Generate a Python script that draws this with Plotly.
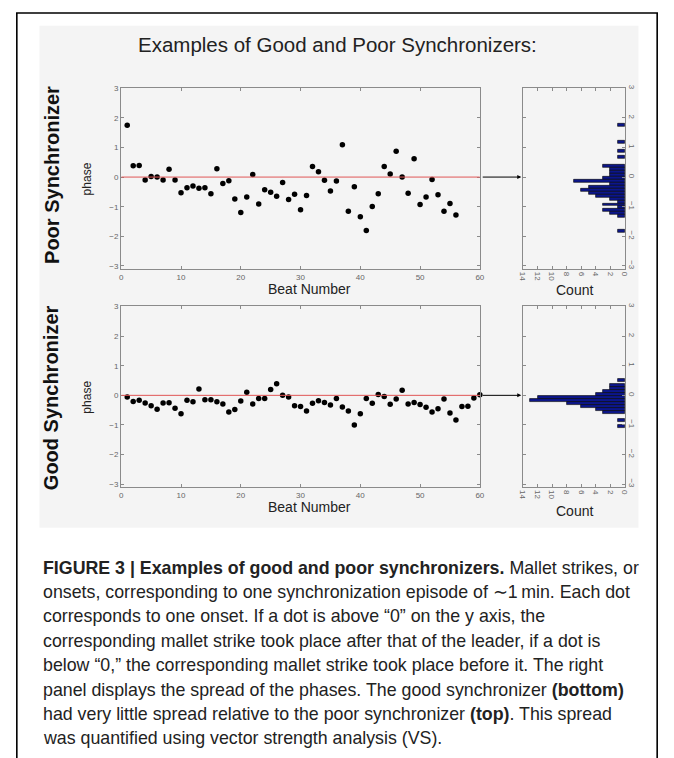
import plotly.graph_objects as go

W, H = 674, 758

# ---------------- data ----------------
poor_beats = [1, 2, 3, 4, 5, 6, 7, 8, 9, 10, 11, 12, 13, 14, 15, 16, 17, 18, 19, 20,
              21, 22, 23, 24, 25, 26, 27, 28, 29, 30, 31, 32, 33, 34, 35, 36, 37, 38, 39, 40,
              41, 42, 43, 44, 45, 46, 47, 48, 49, 50, 51, 52, 53, 54, 55, 56]
poor_phase = [1.75, 0.38, 0.39, -0.10, 0.02, 0.00, -0.10, 0.26, -0.10, -0.53,
              -0.36, -0.30, -0.38, -0.36, -0.56, 0.28, -0.22, -0.12, -0.74, -1.20,
              -0.67, 0.09, -0.91, -0.43, -0.51, -0.65, -0.18, -0.76, -0.58, -1.10,
              -0.62, 0.36, 0.18, -0.11, -0.47, -0.13, 1.09, -1.15, -0.33, -1.34,
              -1.80, -0.99, -0.56, 0.36, 0.10, 0.87, 0.00, -0.55, 0.62, -0.93,
              -0.67, -0.08, -0.60, -1.15, -0.89, -1.28]

good_beats = [1, 2, 3, 4, 5, 6, 7, 8, 9, 10, 11, 12, 13, 14, 15, 16, 17, 18, 19, 20,
              21, 22, 23, 24, 25, 26, 27, 28, 29, 30, 31, 32, 33, 34, 35, 36, 37, 38, 39, 40,
              41, 42, 43, 44, 45, 46, 47, 48, 49, 50, 51, 52, 53, 54, 55, 56, 57, 58, 59, 60]
good_phase = [-0.06, -0.21, -0.17, -0.26, -0.35, -0.47, -0.26, -0.25, -0.44, -0.62,
              -0.17, -0.22, 0.21, -0.15, -0.15, -0.22, -0.29, -0.56, -0.48, -0.19,
              0.10, -0.29, -0.11, -0.11, 0.20, 0.39, 0.00, -0.06, -0.35, -0.38,
              -0.53, -0.27, -0.18, -0.24, -0.33, -0.11, -0.39, -0.53, -1.00, -0.62,
              -0.11, -0.27, 0.03, -0.04, -0.30, -0.12, 0.17, -0.29, -0.24, -0.31,
              -0.40, -0.56, -0.45, -0.12, -0.60, -0.83, -0.38, -0.37, -0.09, 0.02]

poor_bin_centers = [1.77, 1.17, 0.87, 0.67, 0.37, 0.27, 0.17, 0.07, -0.03, -0.13, -0.23, -0.33,
                    -0.43, -0.53, -0.63, -0.73, -0.83, -0.93, -1.03, -1.13, -1.23, -1.33, -1.83]
poor_counts = [1, 1, 1, 1, 3, 2, 2, 2, 3, 7, 2, 5, 6, 5, 4, 2, 1, 3, 1, 3, 2, 1, 1]

good_bin_centers = [0.52, 0.32, 0.22, 0.12, 0.02, -0.08, -0.18, -0.28, -0.38, -0.48, -0.58, -0.86, -1.04]
good_counts = [1, 2, 2, 3, 4, 12, 13, 8, 6, 4, 3, 1, 1]
bin_width = 0.1

phase_ticks = [-3, -2, -1, 0, 1, 2, 3]
beat_ticks = [0, 10, 20, 30, 40, 50, 60]
count_ticks = [0, 2, 4, 6, 8, 10, 12, 14]

title_text = "Examples of Good and Poor Synchronizers:"
caption_lines = [
    "<b>FIGURE 3 | Examples of good and poor synchronizers.</b> Mallet strikes, or",
    "onsets, corresponding to one synchronization episode of \u223c1\u2009min. Each dot",
    "corresponds to one onset. If a dot is above \u201c0\u201d on the y axis, the",
    "corresponding mallet strike took place after that of the leader, if a dot is",
    "below \u201c0,\u201d the corresponding mallet strike took place before it. The right",
    "panel displays the spread of the phases. The good synchronizer <b>(bottom)</b>",
    "had very little spread relative to the poor synchronizer <b>(top)</b>. This spread",
    "was quantified using vector strength analysis (VS).",
]

# ---------------- layout helpers ----------------
def px(x):
    return x / W

def py(y):
    return 1 - y / H

FONT = "Liberation Sans, Arial, sans-serif"
CAP_FONT = "Liberation Sans, Arial, sans-serif"
AX_COL = "#8a8a8a"
TICK_COL = "#666666"
YR = [-3.1, 3.02]

fig = go.Figure()

fig.add_trace(go.Scatter(x=poor_beats, y=poor_phase, mode="markers",
                         marker=dict(color="black", size=5.5), xaxis="x", yaxis="y",
                         cliponaxis=False, showlegend=False))
fig.add_trace(go.Scatter(x=good_beats, y=good_phase, mode="markers",
                         marker=dict(color="black", size=5.5), xaxis="x3", yaxis="y3",
                         cliponaxis=False, showlegend=False))
fig.add_trace(go.Bar(y=poor_bin_centers, x=poor_counts, orientation="h", width=bin_width,
                     marker=dict(color="#0c168a", line=dict(color="black", width=0.6)),
                     xaxis="x2", yaxis="y2", showlegend=False))
fig.add_trace(go.Bar(y=good_bin_centers, x=good_counts, orientation="h", width=bin_width,
                     marker=dict(color="#0c168a", line=dict(color="black", width=0.6)),
                     xaxis="x4", yaxis="y4", showlegend=False))

top_dom = [py(267), py(84.3)]
bot_dom = [py(487), py(304.3)]
sc_dom = [px(118), px(482)]
hi_dom = [px(525.7), px(629.3)]

common = dict(showline=True, linecolor=AX_COL, linewidth=1.4, mirror="ticks",
              ticks="inside", ticklen=3, tickcolor=AX_COL, showgrid=False, zeroline=False,
              tickfont=dict(family=FONT, size=8, color=TICK_COL))

fig.update_layout(
    width=W, height=H, autosize=False,
    margin=dict(l=0, r=0, t=0, b=0),
    paper_bgcolor="white", plot_bgcolor="white",
    bargap=0,
    xaxis=dict(domain=sc_dom, anchor="y", range=[0, 60], tickvals=beat_ticks, **common),
    yaxis=dict(domain=top_dom, anchor="x", range=YR, tickvals=phase_ticks, **common),
    xaxis2=dict(domain=hi_dom, anchor="y2", range=[14, 0], tickvals=count_ticks,
                tickangle=90, **common),
    yaxis2=dict(domain=top_dom, anchor="x2", range=YR, tickvals=phase_ticks, side="right",
                tickangle=90, **common),
    xaxis3=dict(domain=sc_dom, anchor="y3", range=[0, 60], tickvals=beat_ticks, **common),
    yaxis3=dict(domain=bot_dom, anchor="x3", range=YR, tickvals=phase_ticks, **common),
    xaxis4=dict(domain=hi_dom, anchor="y4", range=[14, 0], tickvals=count_ticks,
                tickangle=90, **common),
    yaxis4=dict(domain=bot_dom, anchor="x4", range=YR, tickvals=phase_ticks, side="right",
                tickangle=90, **common),
)

shapes = [
    dict(type="rect", xref="paper", yref="paper", x0=px(35), x1=px(643), y0=py(528), y1=py(22),
         fillcolor="#f4f4f4", line=dict(width=0), layer="below"),
    dict(type="rect", xref="paper", yref="paper", x0=px(12), x1=px(662), y0=py(800), y1=py(9),
         fillcolor="rgba(0,0,0,0)", line=dict(color="black", width=1.6), layer="above"),
    dict(type="line", xref="x", yref="y", x0=0, x1=60, y0=0, y1=0,
         line=dict(color="#e05555", width=1)),
    dict(type="line", xref="x3", yref="y3", x0=0, x1=60, y0=0, y1=0,
         line=dict(color="#e05555", width=1)),
]
fig.update_layout(shapes=shapes)

ann = []
ann.append(dict(text=title_text, x=px(338), y=py(41), xref="paper", yref="paper",
                showarrow=False, font=dict(family=FONT, size=20.5, color="#222"),
                xanchor="center", yanchor="middle"))
for label, yc in [("Poor Synchronizer", 172), ("Good Synchronizer", 397)]:
    ann.append(dict(text="<b>%s</b>" % label, x=px(47), y=py(yc), xref="paper", yref="paper",
                    showarrow=False, textangle=-90, font=dict(family=FONT, size=20, color="#111"),
                    xanchor="center", yanchor="middle"))
for yc in [176, 396]:
    ann.append(dict(text="phase", x=px(83), y=py(yc), xref="paper", yref="paper",
                    showarrow=False, textangle=-90, font=dict(family=FONT, size=12, color="#222"),
                    xanchor="center", yanchor="middle"))
for yc in [287, 507]:
    ann.append(dict(text="Beat Number", x=px(309), y=py(yc), xref="paper", yref="paper",
                    showarrow=False, font=dict(family=FONT, size=14, color="#222"),
                    xanchor="center", yanchor="middle"))
for yc in [288, 511]:
    ann.append(dict(text="Count", x=px(578), y=py(yc), xref="paper", yref="paper",
                    showarrow=False, font=dict(family=FONT, size=14, color="#222"),
                    xanchor="center", yanchor="middle"))
for yref in ["y", "y3"]:
    ann.append(dict(x=px(524), y=0, xref="paper", yref=yref, ax=-40, ay=0,
                    axref="pixel", ayref="pixel", showarrow=True, arrowhead=2,
                    arrowsize=0.8, arrowwidth=1, arrowcolor="black", text=""))
for i, line in enumerate(caption_lines):
    ann.append(dict(text=line, x=px(37), y=py(568 + i * 24.6), xref="paper", yref="paper",
                    showarrow=False, font=dict(family=CAP_FONT, size=17.8, color="#222"),
                    xanchor="left", yanchor="middle"))
fig.update_layout(annotations=ann)

fig.write_html("out.html", config={"displayModeBar": False},
               post_script="document.body.style.margin='0px';")
